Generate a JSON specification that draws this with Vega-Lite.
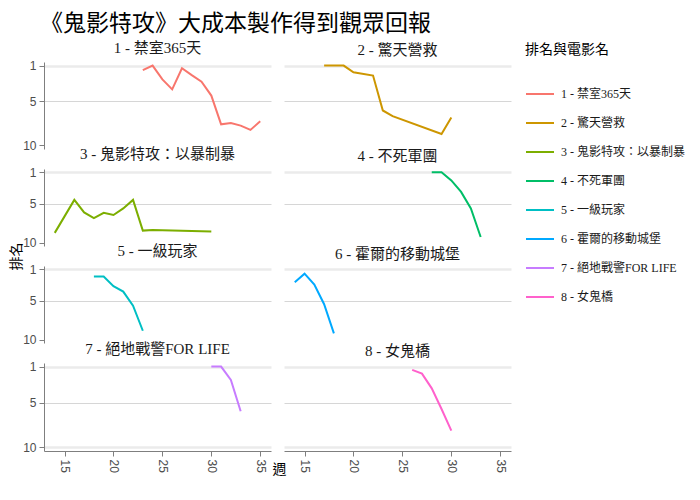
{
  "$schema": "https://vega.github.io/schema/vega-lite/v6.json",
  "padding": {"left": 9, "top": 12, "right": 5, "bottom": 5},
  "bounds": "flush",
  "columns": 2,
  "spacing": {"row": 20, "column": 13},
  "title": {"text": "《鬼影特攻》大成本製作得到觀眾回報", "anchor": "start", "font": "Noto Sans CJK TC", "fontSize": 23, "fontWeight": "normal", "color": "#000000", "offset": 5, "dx": 31},
  "data": {"values": [
    {"週": 23, "排名": 1.52, "電影": "1 - 禁室365天"},
    {"週": 24, "排名": 1.0, "電影": "1 - 禁室365天"},
    {"週": 25, "排名": 2.56, "電影": "1 - 禁室365天"},
    {"週": 26, "排名": 3.68, "電影": "1 - 禁室365天"},
    {"週": 27, "排名": 1.3, "電影": "1 - 禁室365天"},
    {"週": 28, "排名": 2.08, "電影": "1 - 禁室365天"},
    {"週": 29, "排名": 2.82, "電影": "1 - 禁室365天"},
    {"週": 30, "排名": 4.38, "電影": "1 - 禁室365天"},
    {"週": 31, "排名": 7.62, "電影": "1 - 禁室365天"},
    {"週": 32, "排名": 7.47, "電影": "1 - 禁室365天"},
    {"週": 33, "排名": 7.77, "電影": "1 - 禁室365天"},
    {"週": 34, "排名": 8.25, "電影": "1 - 禁室365天"},
    {"週": 35, "排名": 7.28, "電影": "1 - 禁室365天"},
    {"週": 17, "排名": 1.0, "電影": "2 - 驚天營救"},
    {"週": 19, "排名": 1.0, "電影": "2 - 驚天營救"},
    {"週": 20, "排名": 1.75, "電影": "2 - 驚天營救"},
    {"週": 22, "排名": 2.13, "電影": "2 - 驚天營救"},
    {"週": 23, "排名": 6.06, "電影": "2 - 驚天營救"},
    {"週": 24, "排名": 6.7, "電影": "2 - 驚天營救"},
    {"週": 29, "排名": 8.7, "電影": "2 - 驚天營救"},
    {"週": 30, "排名": 6.85, "電影": "2 - 驚天營救"},
    {"週": 14, "排名": 8.73, "電影": "3 - 鬼影特攻：以暴制暴"},
    {"週": 16, "排名": 4.53, "電影": "3 - 鬼影特攻：以暴制暴"},
    {"週": 17, "排名": 6.13, "電影": "3 - 鬼影特攻：以暴制暴"},
    {"週": 18, "排名": 6.84, "電影": "3 - 鬼影特攻：以暴制暴"},
    {"週": 19, "排名": 6.17, "電影": "3 - 鬼影特攻：以暴制暴"},
    {"週": 20, "排名": 6.46, "電影": "3 - 鬼影特攻：以暴制暴"},
    {"週": 21, "排名": 5.62, "電影": "3 - 鬼影特攻：以暴制暴"},
    {"週": 22, "排名": 4.53, "電影": "3 - 鬼影特攻：以暴制暴"},
    {"週": 23, "排名": 8.44, "電影": "3 - 鬼影特攻：以暴制暴"},
    {"週": 24, "排名": 8.35, "電影": "3 - 鬼影特攻：以暴制暴"},
    {"週": 30, "排名": 8.56, "電影": "3 - 鬼影特攻：以暴制暴"},
    {"週": 28, "排名": 1.0, "電影": "4 - 不死軍團"},
    {"週": 29, "排名": 1.0, "電影": "4 - 不死軍團"},
    {"週": 30, "排名": 2.05, "電影": "4 - 不死軍團"},
    {"週": 31, "排名": 3.52, "電影": "4 - 不死軍團"},
    {"週": 32, "排名": 5.63, "電影": "4 - 不死軍團"},
    {"週": 33, "排名": 9.25, "電影": "4 - 不死軍團"},
    {"週": 18, "排名": 1.95, "電影": "5 - 一級玩家"},
    {"週": 19, "排名": 1.95, "電影": "5 - 一級玩家"},
    {"週": 20, "排名": 3.16, "電影": "5 - 一級玩家"},
    {"週": 21, "排名": 3.86, "電影": "5 - 一級玩家"},
    {"週": 22, "排名": 5.65, "電影": "5 - 一級玩家"},
    {"週": 23, "排名": 8.84, "電影": "5 - 一級玩家"},
    {"週": 14, "排名": 2.67, "電影": "6 - 霍爾的移動城堡"},
    {"週": 15, "排名": 1.58, "電影": "6 - 霍爾的移動城堡"},
    {"週": 16, "排名": 2.96, "電影": "6 - 霍爾的移動城堡"},
    {"週": 17, "排名": 5.46, "電影": "6 - 霍爾的移動城堡"},
    {"週": 18, "排名": 9.17, "電影": "6 - 霍爾的移動城堡"},
    {"週": 30, "排名": 1.0, "電影": "7 - 絕地戰警FOR LIFE"},
    {"週": 31, "排名": 1.0, "電影": "7 - 絕地戰警FOR LIFE"},
    {"週": 32, "排名": 2.49, "電影": "7 - 絕地戰警FOR LIFE"},
    {"週": 33, "排名": 5.98, "電影": "7 - 絕地戰警FOR LIFE"},
    {"週": 26, "排名": 1.37, "電影": "8 - 女鬼橋"},
    {"週": 27, "排名": 1.78, "電影": "8 - 女鬼橋"},
    {"週": 28, "排名": 3.42, "電影": "8 - 女鬼橋"},
    {"週": 29, "排名": 5.72, "電影": "8 - 女鬼橋"},
    {"週": 30, "排名": 8.14, "電影": "8 - 女鬼橋"}
  ]},
  "concat": [
    {"title": "1 - 禁室365天", "width": 227, "height": 87,
     "transform": [{"filter": {"field": "電影", "equal": "1 - 禁室365天"}}],
     "mark": {"type": "line", "strokeWidth": 2},
     "encoding": {
       "x": {"field": "週", "type": "quantitative", "scale": {"domain": [12.9, 36.1], "nice": false, "zero": false}, "axis": null},
       "y": {"field": "排名", "type": "quantitative", "scale": {"domain": [0.6, 10.4], "reverse": true, "nice": false, "zero": false}, "axis": {"values": [1, 5, 10], "title": null, "gridOpacity": {"condition": {"test": "datum.value == 10", "value": 0}, "value": 1}}},
       "color": {"field": "電影", "type": "nominal", "title": "排名與電影名", "scale": {"domain": ["1 - 禁室365天", "2 - 驚天營救", "3 - 鬼影特攻：以暴制暴", "4 - 不死軍團", "5 - 一級玩家", "6 - 霍爾的移動城堡", "7 - 絕地戰警FOR LIFE", "8 - 女鬼橋"], "range": ["#F8766D", "#CD9600", "#7CAE00", "#00BE67", "#00BFC4", "#00A9FF", "#C77CFF", "#FF61CC"]}}
     }},
    {"title": "2 - 驚天營救", "width": 227, "height": 87,
     "transform": [{"filter": {"field": "電影", "equal": "2 - 驚天營救"}}],
     "mark": {"type": "line", "strokeWidth": 2},
     "encoding": {
       "x": {"field": "週", "type": "quantitative", "scale": {"domain": [12.9, 36.1], "nice": false, "zero": false}, "axis": null},
       "y": {"field": "排名", "type": "quantitative", "scale": {"domain": [0.6, 10.4], "reverse": true, "nice": false, "zero": false}, "axis": {"values": [1, 5, 10], "title": null, "labels": false, "ticks": false, "domain": false, "gridOpacity": {"condition": {"test": "datum.value == 10", "value": 0}, "value": 1}}},
       "color": {"field": "電影", "type": "nominal", "title": "排名與電影名"}
     }},
    {"title": "3 - 鬼影特攻：以暴制暴", "width": 227, "height": 77,
     "transform": [{"filter": {"field": "電影", "equal": "3 - 鬼影特攻：以暴制暴"}}],
     "mark": {"type": "line", "strokeWidth": 2},
     "encoding": {
       "x": {"field": "週", "type": "quantitative", "scale": {"domain": [12.9, 36.1], "nice": false, "zero": false}, "axis": null},
       "y": {"field": "排名", "type": "quantitative", "scale": {"domain": [0.6, 10.4], "reverse": true, "nice": false, "zero": false}, "axis": {"values": [1, 5, 10], "title": "排名", "titleY": 87, "titleX": -28, "titleAlign": "center", "titleBaseline": "middle", "titleAngle": -90, "gridOpacity": {"condition": {"test": "datum.value == 10", "value": 0}, "value": 1}}},
       "color": {"field": "電影", "type": "nominal", "title": "排名與電影名"}
     }},
    {"title": "4 - 不死軍團", "width": 227, "height": 77,
     "transform": [{"filter": {"field": "電影", "equal": "4 - 不死軍團"}}],
     "mark": {"type": "line", "strokeWidth": 2},
     "encoding": {
       "x": {"field": "週", "type": "quantitative", "scale": {"domain": [12.9, 36.1], "nice": false, "zero": false}, "axis": null},
       "y": {"field": "排名", "type": "quantitative", "scale": {"domain": [0.6, 10.4], "reverse": true, "nice": false, "zero": false}, "axis": {"values": [1, 5, 10], "title": null, "labels": false, "ticks": false, "domain": false, "gridOpacity": {"condition": {"test": "datum.value == 10", "value": 0}, "value": 1}}},
       "color": {"field": "電影", "type": "nominal", "title": "排名與電影名"}
     }},
    {"title": "5 - 一級玩家", "width": 227, "height": 77,
     "transform": [{"filter": {"field": "電影", "equal": "5 - 一級玩家"}}],
     "mark": {"type": "line", "strokeWidth": 2},
     "encoding": {
       "x": {"field": "週", "type": "quantitative", "scale": {"domain": [12.9, 36.1], "nice": false, "zero": false}, "axis": null},
       "y": {"field": "排名", "type": "quantitative", "scale": {"domain": [0.6, 10.4], "reverse": true, "nice": false, "zero": false}, "axis": {"values": [1, 5, 10], "title": null, "gridOpacity": {"condition": {"test": "datum.value == 10", "value": 0}, "value": 1}}},
       "color": {"field": "電影", "type": "nominal", "title": "排名與電影名"}
     }},
    {"title": "6 - 霍爾的移動城堡", "width": 227, "height": 77,
     "transform": [{"filter": {"field": "電影", "equal": "6 - 霍爾的移動城堡"}}],
     "mark": {"type": "line", "strokeWidth": 2},
     "encoding": {
       "x": {"field": "週", "type": "quantitative", "scale": {"domain": [12.9, 36.1], "nice": false, "zero": false}, "axis": null},
       "y": {"field": "排名", "type": "quantitative", "scale": {"domain": [0.6, 10.4], "reverse": true, "nice": false, "zero": false}, "axis": {"values": [1, 5, 10], "title": null, "labels": false, "ticks": false, "domain": false, "gridOpacity": {"condition": {"test": "datum.value == 10", "value": 0}, "value": 1}}},
       "color": {"field": "電影", "type": "nominal", "title": "排名與電影名"}
     }},
    {"title": "7 - 絕地戰警FOR LIFE", "width": 227, "height": 88,
     "transform": [{"filter": {"field": "電影", "equal": "7 - 絕地戰警FOR LIFE"}}],
     "mark": {"type": "line", "strokeWidth": 2},
     "encoding": {
       "x": {"field": "週", "type": "quantitative", "scale": {"domain": [12.9, 36.1], "nice": false, "zero": false}, "axis": {"values": [15, 20, 25, 30, 35], "labelAngle": 90, "grid": false, "title": "週", "titleX": 235, "titleY": 18, "titleAlign": "center", "titleBaseline": "middle", "titleAngle": 0}},
       "y": {"field": "排名", "type": "quantitative", "scale": {"domain": [0.6, 10.4], "reverse": true, "nice": false, "zero": false}, "axis": {"values": [1, 5, 10], "title": null}},
       "color": {"field": "電影", "type": "nominal", "title": "排名與電影名"}
     }},
    {"title": "8 - 女鬼橋", "width": 227, "height": 88,
     "transform": [{"filter": {"field": "電影", "equal": "8 - 女鬼橋"}}],
     "mark": {"type": "line", "strokeWidth": 2},
     "encoding": {
       "x": {"field": "週", "type": "quantitative", "scale": {"domain": [12.9, 36.1], "nice": false, "zero": false}, "axis": {"values": [15, 20, 25, 30, 35], "labelAngle": 90, "grid": false, "title": null}},
       "y": {"field": "排名", "type": "quantitative", "scale": {"domain": [0.6, 10.4], "reverse": true, "nice": false, "zero": false}, "axis": {"values": [1, 5, 10], "title": null, "labels": false, "ticks": false, "domain": false}},
       "color": {"field": "電影", "type": "nominal", "title": "排名與電影名"}
     }}
  ],
  "config": {
    "view": {"stroke": null},
    "title": {"font": "Liberation Serif, Noto Sans CJK TC", "fontSize": 15, "fontWeight": "normal", "color": "#1a1a1a", "offset": 4},
    "axis": {
      "labelFont": "Liberation Sans, Noto Sans CJK TC", "labelFontSize": 12, "labelColor": "#4d4d4d",
      "titleFont": "Noto Sans CJK TC", "titleFontSize": 14, "titleFontWeight": "normal", "titleColor": "#000000",
      "domainColor": "#7f7f7f", "tickColor": "#7f7f7f", "tickSize": 5, "labelPadding": 3,
      "gridColor": {"condition": {"test": "datum.value == 1 || datum.value == 10", "value": "#ebebeb"}, "value": "#d6d6d6"},
      "gridWidth": {"condition": {"test": "datum.value == 1 || datum.value == 10", "value": 2.5}, "value": 1}
    },
    "legend": {
      "orient": "none", "legendX": 481, "legendY": -19,
      "titleFont": "Noto Sans CJK TC", "titleFontSize": 14, "titleFontWeight": "normal", "titleColor": "#000000", "titlePadding": 22,
      "labelFont": "Liberation Serif, Noto Sans CJK TC", "labelFontSize": 12, "labelColor": "#1a1a1a", "labelOffset": 6,
      "symbolType": "stroke", "symbolSize": 784, "symbolStrokeWidth": 2, "rowPadding": 8
    }
  }
}
